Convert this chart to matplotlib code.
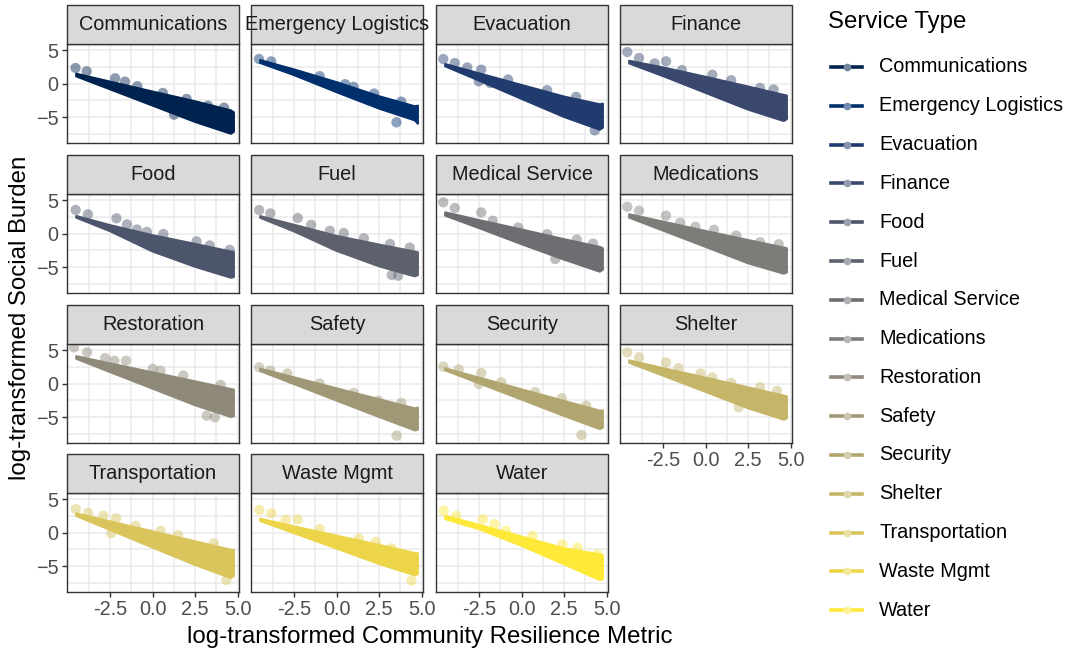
import numpy as np
import matplotlib.pyplot as plt
from matplotlib.patches import Rectangle
from matplotlib.lines import Line2D

plt.rcParams['font.family'] = ['Liberation Sans', 'DejaVu Sans']

W, H = 1067, 655

SERVICES = ['Communications', 'Emergency Logistics', 'Evacuation', 'Finance',
            'Food', 'Fuel', 'Medical Service', 'Medications',
            'Restoration', 'Safety', 'Security', 'Shelter',
            'Transportation', 'Waste Mgmt', 'Water']

# x positions where the edges of each point cloud were traced
BAND_X = [-4.5, -2.5, 0.0, 2.5, 4.6]
EDGE_X = 4.78

# upper / lower edge of the dense point cloud at BAND_X
UPPER = {
    'Communications':      [1.47, 0.28, -1.20, -2.65, -4.00],
    'Emergency Logistics': [3.50, 2.10, 0.20, -1.90, -3.40],
    'Evacuation':          [2.91, 1.52, -0.22, -1.95, -3.10],
    'Finance':             [3.40, 2.40, 1.00, -0.45, -1.70],
    'Food':                [2.62, 1.25, -0.25, -1.55, -2.69],
    'Fuel':                [2.60, 1.30, -0.35, -1.65, -2.70],
    'Medical Service':     [3.16, 2.00, 0.60, -0.85, -2.00],
    'Medications':         [2.87, 1.77, 0.38, -0.97, -2.10],
    'Restoration':         [4.10, 3.00, 1.67, 0.33, -0.82],
    'Safety':              [2.22, 0.92, -0.72, -2.35, -3.70],
    'Security':            [2.27, 0.88, -0.87, -2.60, -4.05],
    'Shelter':             [3.46, 2.30, 0.88, -0.57, -1.80],
    'Transportation':      [2.87, 1.67, 0.18, -1.31, -2.56],
    'Waste Mgmt':          [2.07, 0.92, -0.47, -1.85, -3.05],
    'Water':               [2.50, 1.15, -0.60, -2.35, -3.25],
}
LOWER = {
    'Communications':      [1.07, -0.87, -3.30, -5.74, -7.50],
    'Emergency Logistics': [3.07, 1.25, -1.30, -3.75, -5.50],
    'Evacuation':          [2.57, 0.43, -2.30, -5.00, -6.90],
    'Finance':             [3.00, 1.10, -1.40, -3.90, -5.60],
    'Food':                [2.37, 0.34, -2.69, -4.97, -6.60],
    'Fuel':                [2.35, 0.30, -2.60, -4.90, -6.40],
    'Medical Service':     [2.67, 0.80, -1.60, -3.90, -5.70],
    'Medications':         [2.37, 0.43, -2.00, -4.45, -6.00],
    'Restoration':         [3.70, 1.70, -0.77, -3.25, -5.00],
    'Safety':              [1.87, -0.10, -2.56, -5.00, -7.00],
    'Security':            [1.97, 0.03, -2.40, -4.85, -6.80],
    'Shelter':             [3.10, 1.17, -1.26, -3.70, -5.40],
    'Transportation':      [2.47, 0.38, -2.26, -4.85, -6.80],
    'Waste Mgmt':          [1.72, -0.10, -2.40, -4.70, -6.40],
    'Water':               [2.00, 0.50, -2.00, -4.75, -7.10],
}
# top / bottom of the cloud at its right end (EDGE_X)
RIGHT_EDGE = {
    'Communications': (-4.3, -7.2), 'Emergency Logistics': (-3.3, -6.0),
    'Evacuation': (-3.0, -6.6), 'Finance': (-1.8, -5.3), 'Food': (-2.75, -6.5),
    'Fuel': (-2.8, -6.2), 'Medical Service': (-2.2, -5.4),
    'Medications': (-2.2, -5.8), 'Restoration': (-0.9, -4.9),
    'Safety': (-3.6, -6.9), 'Security': (-4.0, -6.6), 'Shelter': (-1.9, -5.2),
    'Transportation': (-2.6, -6.5), 'Waste Mgmt': (-3.1, -6.2),
    'Water': (-3.4, -7.0),
}

# isolated points sitting outside the dense cloud
OUT_X = {
    'Communications': [-4.54, -3.88, -2.21, -1.63, -0.90, 0.60, 2.00, 4.20,
                       1.26, 3.25],
    'Emergency Logistics': [-4.57, -3.85, -1.00, 0.50, 1.00, 2.20, 3.80, 3.52],
    'Evacuation': [-4.61, -3.94, -3.20, -2.38, -2.52, -1.85, -0.80, 1.50,
                   3.20, 4.30],
    'Finance': [-4.61, -3.92, -3.00, -2.33, -1.40, 0.39, 1.50, 3.20, 4.00],
    'Food': [-4.53, -3.81, -2.13, -1.51, -0.93, -0.34, 0.63, 2.58, 3.36, 4.53],
    'Fuel': [-4.56, -3.90, -2.29, -1.50, -0.40, 0.42, 1.60, 3.14, 4.30,
             3.24, 3.62],
    'Medical Service': [-4.61, -3.94, -2.38, -1.70, -0.20, 1.50, 3.24, 4.20,
                        1.98],
    'Medications': [-4.61, -3.92, -2.33, -1.50, -0.60, 0.49, 1.80, 3.20, 4.30],
    'Restoration': [-4.63, -3.86, -2.80, -2.25, -1.57, 0.00, 0.46, 1.80, 4.00,
                    3.18, 3.66],
    'Safety': [-4.56, -3.90, -2.90, -1.00, 1.00, 2.46, 3.80, 3.53],
    'Security': [-4.61, -3.70, -2.38, -1.20, 0.80, 2.36, 3.80, -2.52, 3.52],
    'Shelter': [-4.61, -3.92, -2.33, -1.60, -0.30, 0.39, 1.50, 3.20, 4.20,
                1.94],
    'Transportation': [-4.52, -3.80, -2.90, -2.15, -1.00, 0.47, 1.50, 3.60,
                       -2.44, 4.34],
    'Waste Mgmt': [-4.55, -3.84, -3.00, -2.29, -1.00, 1.30, 2.30, 3.23, 4.40],
    'Water': [-4.59, -3.85, -2.28, -1.60, -0.92, 0.64, 2.40, 3.28, 4.45],
}
OUT_Y = {
    'Communications': [2.32, 1.82, 0.78, 0.28, -0.40, -1.40, -2.30, -3.60,
                       -4.65, -3.30],
    'Emergency Logistics': [3.66, 3.30, 1.10, -0.10, -0.50, -1.50, -2.70,
                            -5.80],
    'Evacuation': [3.66, 3.06, 2.40, 2.07, 0.33, 0.08, 0.60, -1.00, -2.00,
                   -7.00],
    'Finance': [4.70, 3.81, 3.00, 3.31, 2.00, 1.32, 0.50, -0.67, -0.90],
    'Food': [3.53, 2.87, 2.27, 1.36, 0.60, 0.24, -0.06, -1.17, -1.78, -2.44],
    'Fuel': [3.50, 3.00, 2.32, 1.30, 0.40, 0.08, -0.70, -1.56, -2.10,
             -6.20, -6.30],
    'Medical Service': [4.66, 3.81, 3.16, 1.90, 0.90, -0.10, -0.90, -1.50,
                        -3.80],
    'Medications': [4.00, 3.41, 2.67, 1.60, 1.00, 0.57, -0.30, -1.30, -1.60],
    'Restoration': [5.40, 4.66, 3.80, 3.41, 3.41, 2.20, 1.92, 1.20, -0.20,
                    -4.80, -5.05],
    'Safety': [2.42, 1.92, 1.50, 0.00, -1.40, -2.56, -2.90, -7.78],
    'Security': [2.52, 2.10, 1.57, 0.20, -1.30, -2.20, -3.30, -0.07, -7.68],
    'Shelter': [4.66, 3.91, 3.16, 2.30, 1.50, 0.92, 0.10, -0.57, -1.10,
                -3.55],
    'Transportation': [3.51, 2.96, 2.50, 2.12, 1.00, 0.28, -0.40, -1.60,
                       -0.12, -7.08],
    'Waste Mgmt': [3.36, 2.86, 1.90, 1.97, 0.50, -0.90, -1.40, -2.36, -7.18],
    'Water': [3.25, 2.50, 2.00, 1.25, 0.25, -0.50, -1.75, -2.25, -3.25],
}

X_TICKS = [-2.5, 0.0, 2.5, 5.0]
X_TICK_LABELS = ['-2.5', '0.0', '2.5', '5.0']
Y_TICKS = [-5, 0, 5]

colors = plt.cm.cividis(np.linspace(0, 1, len(SERVICES)))

fig = plt.figure(figsize=(W / 100, H / 100), dpi=100)

col_left = [67, 251, 436, 620]
row_top = [44, 194, 344, 493]
pw, ph, strip_h = 172, 99, 39
small = 14.3
big = 17.3
ncol = 4

for i, name in enumerate(SERVICES):
    r, c = divmod(i, ncol)
    ax = fig.add_axes([col_left[c] / W, 1 - (row_top[r] + ph) / H, pw / W, ph / H])
    col = colors[i]

    # dense cloud outline
    top_r, bot_r = RIGHT_EDGE[name]
    px = BAND_X + [EDGE_X, EDGE_X] + BAND_X[::-1]
    py = UPPER[name] + [top_r, bot_r] + LOWER[name][::-1]
    ax.fill(px, py, facecolor=col, edgecolor=col, lw=1.5,
            joinstyle='round', zorder=3)
    ax.scatter(OUT_X[name], OUT_Y[name], s=55, color=col, alpha=0.45,
               edgecolors='none', zorder=4)

    ax.set_xlim(-5.04, 5.08)
    ax.set_ylim(-8.88, 5.9)
    ax.set_xticks(X_TICKS)
    ax.set_xticks([-3.75, -1.25, 1.25, 3.75], minor=True)
    ax.set_yticks(Y_TICKS)
    ax.set_yticks([-7.5, -2.5, 2.5], minor=True)
    ax.grid(which='both', color='#EBEBEB', lw=1.1)
    ax.set_axisbelow(True)
    for s in ax.spines.values():
        s.set_color('#333333')
        s.set_linewidth(1.0)
    ax.tick_params(which='minor', length=0)
    ax.tick_params(which='major', length=3.6, width=1, color='#333333',
                   labelsize=small, labelcolor='#4D4D4D', pad=2.5)

    show_x = (r == 3) or (r == 2 and c == 3)
    if show_x:
        ax.set_xticklabels(X_TICK_LABELS)
    else:
        ax.tick_params(axis='x', bottom=False, labelbottom=False)
    if c != 0:
        ax.tick_params(axis='y', left=False, labelleft=False)

    # facet strip
    strip = Rectangle((0, 1), 1, strip_h / ph, transform=ax.transAxes,
                      facecolor='#D9D9D9', edgecolor='#333333', lw=1.0,
                      clip_on=False, zorder=5)
    ax.add_patch(strip)
    t = ax.text(0.5, 1 + strip_h / ph / 2, name, transform=ax.transAxes,
                ha='center', va='center', fontsize=small, color='#1A1A1A',
                zorder=6)
    t.set_clip_path(strip)

# axis titles
fig.text(429.5 / W, 1 - 637 / H, 'log-transformed Community Resilience Metric',
         ha='center', va='center', fontsize=big, color='black')
fig.text(20 / W, 1 - 318 / H, 'log-transformed Social Burden',
         ha='center', va='center', rotation=90, fontsize=big, color='black')

# legend
fig.text(828 / W, 1 - 22 / H, 'Service Type', ha='left', va='center',
         fontsize=big, color='black')
for i, name in enumerate(SERVICES):
    y = 1 - (67 + i * 38.8) / H
    light = 0.55 * np.array(colors[i][:3]) + 0.45
    fig.add_artist(Line2D([831 / W, 862 / W], [y, y], color=colors[i], lw=2.6))
    fig.add_artist(Line2D([847 / W], [y], marker='o', ms=5.5, mew=0,
                          color=light))
    fig.text(879 / W, y, name, ha='left', va='center', fontsize=small,
             color='black')

fig.savefig('out.png', dpi=100)
